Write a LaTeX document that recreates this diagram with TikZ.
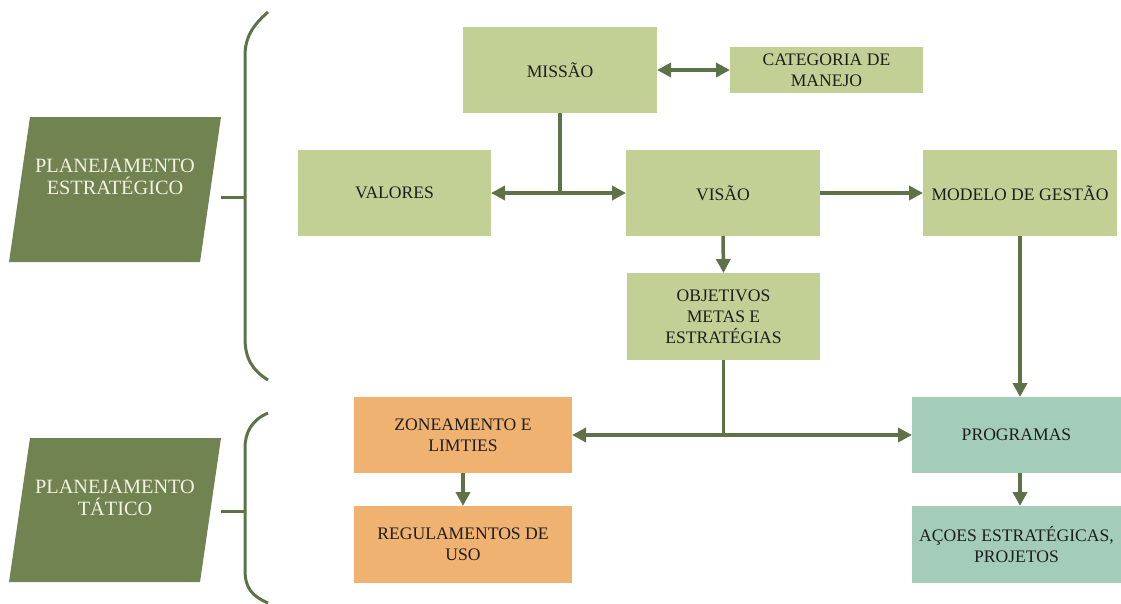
\documentclass[tikz,border=0pt]{standalone}
\usepackage{fontspec}
\setmainfont{Liberation Serif}
\usetikzlibrary{arrows.meta}
\definecolor{olive}{HTML}{708351}
\definecolor{lineg}{HTML}{5F7146}
\definecolor{boxg}{HTML}{C2D096}
\definecolor{boxo}{HTML}{F0B271}
\definecolor{boxt}{HTML}{A4CDB9}
\definecolor{txt}{HTML}{1E1E1E}
\definecolor{cream}{HTML}{F5F2E0}
\tikzset{
  box/.style={rectangle, inner sep=0pt, outer sep=0pt, align=center, text=txt,
    font=\fontsize{17.6}{21}\selectfont},
  gbox/.style={box, fill=boxg},
  obox/.style={box, fill=boxo},
  tbox/.style={box, fill=boxt},
  conn/.style={draw=lineg, line width=3.5pt},
  arr/.style={conn, -{Triangle[length=14pt,width=14pt]}},
  darr/.style={conn, {Triangle[length=14pt,width=14pt]}-{Triangle[length=14pt,width=14pt]}},
  brace/.style={draw=lineg, line width=3pt},
  para/.style={fill=olive},
  paratext/.style={align=center, text=cream, font=\fontsize{20.3}{22}\selectfont}
}
\begin{document}
\begin{tikzpicture}[x=1pt,y=-1pt]
\useasboundingbox (0,0) rectangle (1121,603);

% parallelograms
\fill[para] (30,117) -- (221,117) -- (200,262) -- (9,262) -- cycle;
\node[paratext] (pe) at (115,177) {PLANEJAMENTO\\ESTRATÉGICO};
\fill[para] (30,438) -- (221,438) -- (200,582) -- (9,582) -- cycle;
\node[paratext] (pt) at (115,498) {PLANEJAMENTO\\TÁTICO};

% braces
\draw[brace] (268,12) .. controls (252,26) and (245,38) .. (245,56) -- (245,338) .. controls (245,358) and (252,370) .. (268,380);
\draw[brace] (221,197) -- (245,197);
\draw[brace] (268,413) .. controls (252,420) and (245,432) .. (245,448) -- (245,570) .. controls (245,588) and (252,596) .. (268,603);
\draw[brace] (221,511) -- (245,511);

% boxes
\node[gbox, minimum width=194pt, minimum height=86pt] (mis) at (560,70) {MISSÃO};
\node[gbox, minimum width=193pt, minimum height=46pt] (cat) at (826.5,70) {CATEGORIA DE\\MANEJO};
\node[gbox, minimum width=193pt, minimum height=86pt] (val) at (394.5,193) {VALORES};
\node[gbox, minimum width=194pt, minimum height=86pt] (vis) at (723,193) {VISÃO};
\node[gbox, minimum width=194pt, minimum height=86pt] (mod) at (1020,193) {MODELO DE GESTÃO};
\node[gbox, minimum width=193pt, minimum height=87pt] (obj) at (723.5,316.5) {OBJETIVOS\\METAS E\\ESTRATÉGIAS};
\node[obox, minimum width=218pt, minimum height=76pt] (zon) at (463,435) {ZONEAMENTO E\\LIMTIES};
\node[obox, minimum width=218pt, minimum height=77pt] (reg) at (463,544.5) {REGULAMENTOS DE\\USO};
\node[tbox, minimum width=209pt, minimum height=76pt] (pro) at (1016.5,435) {PROGRAMAS};
\node[tbox, minimum width=209pt, minimum height=77pt] (aco) at (1016.5,544.5) {AÇOES ESTRATÉGICAS,\\PROJETOS};

% connectors
\draw[darr] (mis.east) -- (cat.west);
\draw[arr] (mis.south) |- (val.east);
\draw[arr] (mis.south) |- (vis.west);
\draw[arr] (vis.east) -- (mod.west);
\draw[arr] (vis.south) -- (obj.north);
\draw[arr] (obj.south) |- (zon.east);
\draw[arr] (obj.south) |- (pro.west);
\draw[arr] (mod.south) -- (mod.south |- pro.north);
\draw[arr] (zon.south) -- (reg.north);
\draw[arr] (pro.south -| mod.south) -- (aco.north -| mod.south);
\end{tikzpicture}
\end{document}
